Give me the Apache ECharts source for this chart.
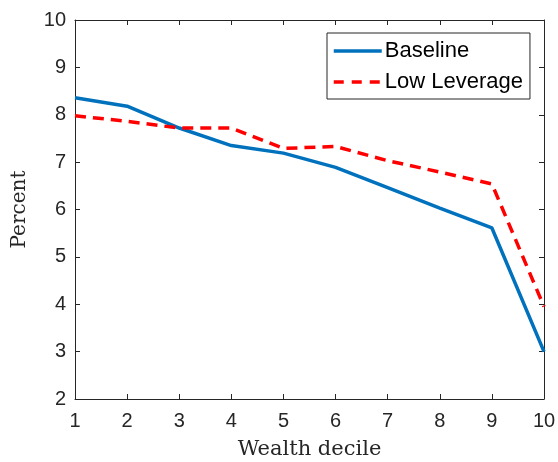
<!DOCTYPE html>
<html><head><meta charset="utf-8">
<script src="https://cdn.jsdelivr.net/npm/echarts@6/dist/echarts.min.js"></script>
<style>html,body{margin:0;padding:0;background:#fff}#c{width:558px;height:462px}</style>
</head><body><div id="c"></div>
<script>
const deciles = [1,2,3,4,5,6,7,8,9,10];
const baseline = [8.36,8.18,7.72,7.35,7.19,6.89,6.46,6.03,5.61,3.00];
const lowLeverage = [7.98,7.86,7.72,7.72,7.29,7.33,7.03,6.79,6.54,3.95];
const yTicks = [2,3,4,5,6,7,8,9,10];

const axisColor = '#262626';
const chart = echarts.init(document.getElementById('c'));
const tickFont = {fontFamily:'Liberation Sans, Arial', fontSize:20, color:axisColor};
chart.setOption({
  animation:false,
  grid:{left:75,right:14,top:20,bottom:63,containLabel:false,outerBoundsMode:'none'},
  legend:{
    orient:'vertical', left:327, top:33,
    itemWidth:48, itemHeight:4, itemGap:9,
    padding:[7,7,6,5],
    borderColor:'#262626', borderWidth:1, backgroundColor:'#fff',
    itemStyle:{opacity:0},
    textStyle:{fontFamily:'Liberation Sans, Arial', fontSize:22, color:'#000', padding:[0,0,0,-2]},
    data:[
      {name:'Baseline', lineStyle:{width:3.5}},
      {name:'Low Leverage', lineStyle:{width:3.5,type:[10,8]}}
    ]
  },
  xAxis:[{
    type:'value', min:1, max:10, interval:1,
    name:'Wealth decile', nameLocation:'middle', nameGap:40,
    nameTextStyle:{fontFamily:'DejaVu Serif, Liberation Serif', fontSize:21, color:axisColor},
    axisLine:{lineStyle:{color:axisColor,width:1}},
    axisTick:{inside:true,length:5,lineStyle:{color:axisColor}},
    axisLabel:Object.assign({margin:12},tickFont),
    splitLine:{show:false}
  },{
    type:'value', min:1, max:10, interval:1, position:'top',
    axisLine:{lineStyle:{color:axisColor,width:1}},
    axisTick:{inside:true,length:5,lineStyle:{color:axisColor}},
    axisLabel:{show:false}, splitLine:{show:false}
  }],
  yAxis:[{
    type:'value', min:2, max:10, interval:1,
    name:'Percent', nameLocation:'middle', nameGap:45,
    nameTextStyle:{fontFamily:'DejaVu Serif, Liberation Serif', fontSize:20, color:axisColor},
    axisLine:{show:true,lineStyle:{color:axisColor,width:1}},
    axisTick:{show:true,inside:true,length:5,lineStyle:{color:axisColor}},
    axisLabel:Object.assign({margin:9,formatter:v=>yTicks.includes(v)?String(v):''},tickFont),
    splitLine:{show:false}
  },{
    type:'value', min:2, max:10, interval:1, position:'right',
    axisLine:{show:true,lineStyle:{color:axisColor,width:1}},
    axisTick:{show:true,inside:true,length:5,lineStyle:{color:axisColor}},
    axisLabel:{show:false}, splitLine:{show:false}
  }],
  series:[{
    name:'Baseline', type:'line', symbol:'none', showSymbol:false,
    data:deciles.map((d,i)=>[d,baseline[i]]),
    lineStyle:{color:'#0072BD',width:3.5}, itemStyle:{color:'#0072BD'}
  },{
    name:'Low Leverage', type:'line', symbol:'none', showSymbol:false,
    data:deciles.map((d,i)=>[d,lowLeverage[i]]),
    lineStyle:{color:'#FF0000',width:3.5,type:[11,7]}, itemStyle:{color:'#FF0000'}
  }]
});
</script></body></html>
